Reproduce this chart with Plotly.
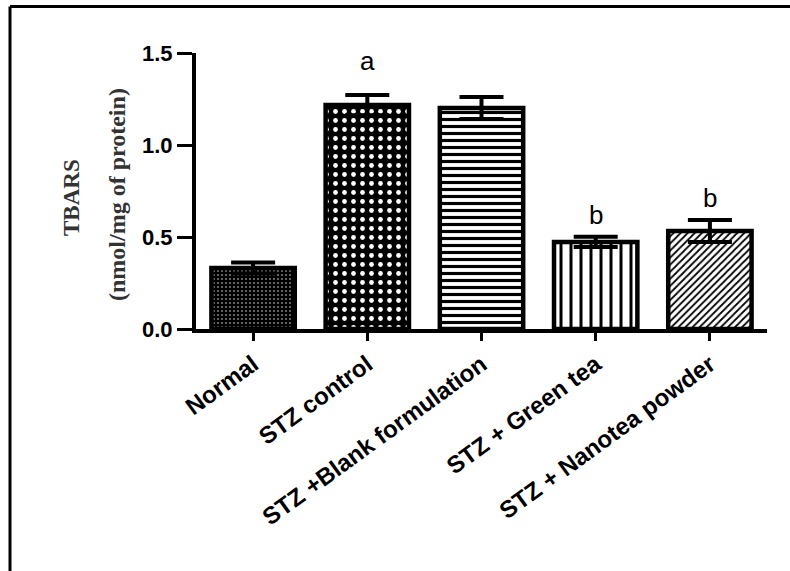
import plotly.graph_objects as go

# TBARS levels per treatment group (mean ± SEM)
groups = ["Normal", "STZ control", "STZ +Blank formulation", "STZ + Green tea", "STZ + Nanotea powder"]
tbars_mean = [0.332, 1.217, 1.201, 0.473, 0.533]
tbars_sem = [0.03, 0.055, 0.06, 0.028, 0.06]
sig_letters = ["", "a", "", "b", "b"]
y_ticks = [0.0, 0.5, 1.0, 1.5]

# fill pattern per bar (shape, spacing, solidity, fg, bg)
patterns = [
    dict(shape=".", size=4, solidity=0.1, fgcolor="white", bgcolor="black", fillmode="replace"),
    dict(shape=".", size=9, solidity=0.22, fgcolor="white", bgcolor="black", fillmode="replace"),
    dict(shape="-", size=7, solidity=0.45, fgcolor="black", bgcolor="white", fillmode="replace"),
    dict(shape="|", size=10, solidity=0.3, fgcolor="black", bgcolor="white", fillmode="replace"),
    dict(shape="/", size=5, solidity=0.35, fgcolor="black", bgcolor="white", fillmode="replace"),
]

W, H = 790, 571
ML, MR, MT, MB = 196, 23, 53, 242
pw, ph = W - ML - MR, H - MT - MB

fig = go.Figure()
for i, g in enumerate(groups):
    fig.add_trace(go.Bar(
        x=[i], y=[tbars_mean[i]],
        width=0.73,
        marker=dict(color="white", line=dict(color="black", width=4.5), pattern=patterns[i]),
        error_y=dict(type="data", array=[tbars_sem[i]], visible=True,
                     color="black", thickness=4, width=22),
        showlegend=False,
    ))

# significance letters above the error bars
letter_lift = {"a": 0.185, "b": 0.12}
for i, s in enumerate(sig_letters):
    if s:
        fig.add_annotation(x=i, y=tbars_mean[i] + tbars_sem[i] + letter_lift[s],
                           text=s, showarrow=False, yanchor="middle",
                           font=dict(family="Liberation Sans", size=26, color="black"))

# y-axis title as two stacked rotated lines
def px_to_paper(px, py):
    return (px - ML) / pw, (H - MB - py) / ph

x1, y1 = px_to_paper(71, 198)
fig.add_annotation(xref="paper", yref="paper", x=x1, y=y1, text="<b>TBARS</b>",
                   textangle=-90, showarrow=False, xanchor="center", yanchor="middle",
                   font=dict(family="Liberation Serif", size=23, color="#333333"))
x2, y2 = px_to_paper(117, 195)
fig.add_annotation(xref="paper", yref="paper", x=x2, y=y2, text="<b>(nmol/mg of protein)</b>",
                   textangle=-90, showarrow=False, xanchor="center", yanchor="middle",
                   font=dict(family="Liberation Serif", size=24, color="#333333"))

# outer frame (top and left edges)
fx0, fy0 = px_to_paper(10, 6.5)
fx1, fy1 = px_to_paper(800, 580)
fig.add_shape(type="line", xref="paper", yref="paper", x0=fx0, y0=fy0, x1=fx1, y1=fy0,
              line=dict(color="black", width=3))
fig.add_shape(type="line", xref="paper", yref="paper", x0=fx0, y0=fy0, x1=fx0, y1=fy1,
              line=dict(color="black", width=3))

fig.update_layout(
    width=W, height=H,
    margin=dict(l=ML, r=MR, t=MT, b=MB, pad=0),
    paper_bgcolor="white", plot_bgcolor="white",
    bargap=0.27,
    xaxis=dict(range=[-0.5, 4.5], tickmode="array", tickvals=list(range(len(groups))),
               ticktext=groups, tickangle=-36, showgrid=False, zeroline=False,
               showline=True, linecolor="black", linewidth=4,
               ticks="outside", ticklen=8, tickwidth=3, tickcolor="black",
               tickfont=dict(family="Liberation Sans", size=24, color="black", weight="bold")),
    yaxis=dict(range=[0, 1.5], tickmode="array", tickvals=y_ticks,
               ticktext=[f"{v:.1f}" for v in y_ticks], showgrid=False, zeroline=False,
               showline=True, linecolor="black", linewidth=4,
               ticks="outside", ticklen=15, tickwidth=3, tickcolor="black",
               ticklabelstandoff=0,
               tickfont=dict(family="Liberation Sans", size=22, color="black", weight="bold")),
)

fig.write_html("out.html")
